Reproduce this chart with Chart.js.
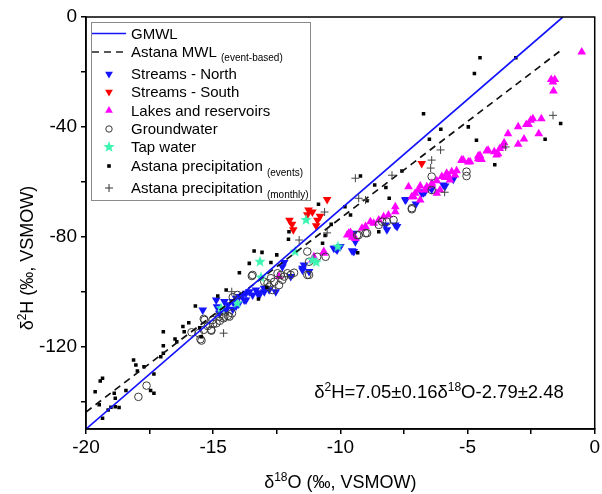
<!DOCTYPE html>
<html>
<head>
<meta charset="utf-8">
<script src="https://cdn.jsdelivr.net/npm/chart.js@4.4.0/dist/chart.umd.min.js"></script>
<style>
html, body { margin: 0; padding: 0; background: #fff; }
#wrap { width: 602px; height: 494px; }
</style>
</head>
<body>
<div id="wrap"><canvas id="myChart" width="602" height="494"></canvas></div>
<script>
// tick labels
const xTickLabels = [-20, -15, -10, -5, 0];
const yTickLabels = [-120, -80, -40, 0];

// meteoric water lines (end points)
const gmwlO = [-20, -1.25];
const gmwlH = [-150, 0];
const mwlO = [-20, -1.35];
const mwlH = [-143.8, -12.3];

// Streams - North
const northO = [-14.88, -14.56, -14.43, -14.23, -14.10, -13.97, -13.84, -13.71, -13.58, -13.45, -13.32, -13.19, -12.99, -13.78, -14.10, -14.49, -14.23, -12.54, -12.21, -12.28, -11.95, -11.49, -11.23, -10.13, -10.26, -9.47, -9.60, -15.41, -14.76, -14.85, -14.00, -13.71, -9.47, -9.41, -10.19, -10.00, -9.54, -8.17, -7.84, -7.77, -8.23, -11.49, -11.43, -7.45, -6.80, -6.67, -6.41, -5.95, -5.56, -5.88, -6.47, -6.73, -7.42, -7.03, -13.20, -13.00, -12.80];
const northH = [-103.0, -103.6, -104.8, -103.6, -102.4, -101.8, -101.2, -100.6, -100.0, -101.2, -99.4, -100.4, -100.0, -103.0, -105.2, -106.7, -106.4, -100.0, -89.4, -90.9, -94.5, -92.1, -92.7, -84.8, -84.2, -85.4, -79.0, -106.7, -107.9, -105.5, -104.5, -103.0, -78.7, -81.8, -84.2, -83.6, -85.1, -77.5, -75.7, -76.3, -75.7, -91.5, -90.3, -66.6, -64.2, -63.6, -62.7, -61.2, -59.1, -61.5, -62.0, -64.0, -66.4, -68.1, -101.5, -98.8, -99.3];

// Streams - South
const southO = [-12.0, -11.9, -11.85, -11.25, -11.1, -11.3, -10.9, -10.8, -10.95, -10.52, -6.8];
const southH = [-74.0, -75.5, -77.5, -70.3, -71.0, -72.0, -74.0, -72.5, -76.0, -66.4, -53.3];

// Lakes and reservoirs
const lakeO = [-11.04, -10.65, -12.41, -9.54, -9.41, -9.15, -9.01, -9.73, -9.54, -9.60, -8.82, -8.69, -8.49, -8.30, -8.11, -7.84, -7.32, -7.19, -7.06, -6.93, -6.60, -6.40, -6.21, -6.01, -5.82, -5.62, -5.49, -5.23, -11.10, -5.43, -5.75, -5.88, -6.21, -5.69, -6.41, -6.08, -6.86, -6.67, -7.12, -6.86, -7.84, -4.90, -5.17, -4.58, -4.51, -3.86, -0.51, -1.71, -1.57, -1.64, -1.62, -2.43, -2.52, -2.10, -2.69, -2.60, -3.01, -3.41, -2.20, -2.78, -3.01, -3.56, -3.60, -3.73, -3.95, -3.80, -4.19, -4.25, -4.51, -4.58, -4.45, -4.97, -5.23, -10.65, -9.67];
const lakeH = [-87.3, -86.0, -94.5, -79.4, -80.6, -76.9, -76.3, -79.4, -80.2, -78.5, -74.5, -75.1, -73.9, -72.7, -72.1, -70.9, -61.8, -65.4, -64.2, -63.0, -61.8, -60.5, -64.2, -58.1, -56.9, -56.3, -57.5, -52.1, -88.5, -56.0, -57.9, -58.4, -59.6, -59.3, -61.2, -63.0, -61.5, -63.0, -65.4, -66.6, -69.1, -52.7, -52.1, -50.6, -51.8, -50.2, -12.7, -22.8, -22.8, -23.7, -26.9, -37.0, -37.6, -37.0, -39.1, -39.1, -40.0, -42.5, -42.5, -44.4, -46.3, -45.8, -47.1, -47.9, -49.1, -49.8, -48.5, -48.8, -50.4, -51.6, -51.9, -52.8, -52.2, -85.4, -78.7];

// Groundwater
const gwO = [-17.62, -17.94, -15.37, -15.85, -15.57, -15.50, -15.46, -15.07, -15.00, -14.87, -14.74, -14.59, -14.42, -14.26, -15.37, -13.45, -12.99, -12.86, -12.73, -12.60, -12.47, -12.34, -12.21, -12.08, -11.95, -11.82, -12.41, -12.67, -12.80, -12.28, -14.04, -14.23, -14.76, -14.56, -14.36, -15.02, -15.21, -15.34, -15.08, -11.30, -11.23, -10.91, -10.58, -9.28, -9.01, -13.48, -9.34, -8.95, -8.36, -8.17, -7.91, -8.49, -7.19, -6.41, -6.41, -5.04, -5.04, -11.30, -11.23, -7.19];
const gwH = [-134.2, -138.3, -109.9, -114.8, -115.1, -117.3, -117.8, -114.2, -111.8, -111.5, -110.6, -109.7, -108.8, -107.9, -113.9, -93.9, -96.4, -96.9, -95.1, -96.4, -93.3, -93.9, -94.5, -93.3, -93.9, -93.1, -97.6, -99.4, -98.2, -95.7, -101.2, -102.0, -109.1, -109.1, -109.1, -110.3, -112.5, -110.3, -113.9, -93.9, -89.1, -87.3, -87.3, -79.4, -78.7, -94.3, -79.4, -78.7, -74.5, -74.5, -73.9, -75.7, -70.0, -58.1, -63.0, -56.3, -57.9, -85.4, -93.9, -69.6];

// Tap water
const tapO = [-14.69, -14.06, -13.16, -13.12, -11.78, -11.35, -11.10, -10.95, -10.10];
const tapH = [-106.0, -104.2, -89.1, -94.8, -85.4, -73.9, -88.5, -89.3, -83.6];

// Astana precipitation (events)
const eventO = [-15.70, -16.96, -16.19, -16.14, -15.96, -15.53, -15.47, -16.96, -16.50, -16.43, -16.96, -17.06, -18.13, -18.04, -17.72, -17.98, -17.33, -19.35, -19.44, -19.64, -18.89, -18.43, -17.46, -17.33, -19.48, -18.85, -18.85, -18.70, -19.02, -19.13, -19.35, -12.02, -12.04, -13.39, -13.08, -12.50, -13.58, -12.73, -13.97, -14.49, -14.82, -13.22, -12.89, -10.60, -10.70, -10.36, -9.32, -9.21, -8.65, -8.21, -7.58, -8.08, -8.95, -9.60, -9.82, -10.86, -8.49, -4.51, -4.73, -3.10, -6.73, -6.05, -4.97, -6.50, -4.65, -1.95, -1.34, -3.93];
const eventH = [-105.2, -114.6, -112.7, -114.6, -111.3, -113.1, -116.4, -119.7, -117.2, -118.2, -122.4, -123.7, -124.9, -126.7, -127.3, -128.9, -130.0, -131.5, -132.5, -136.4, -137.0, -136.0, -136.0, -137.0, -141.2, -138.8, -141.9, -142.2, -142.1, -143.1, -146.1, -78.2, -80.9, -85.2, -85.7, -86.6, -89.7, -89.4, -93.1, -99.4, -101.6, -102.7, -98.4, -79.5, -82.4, -75.5, -85.8, -57.9, -61.2, -62.1, -56.1, -66.0, -66.9, -72.1, -69.1, -68.2, -78.2, -14.8, -20.6, -14.8, -35.2, -40.9, -40.0, -44.5, -44.9, -44.5, -38.8, -53.8];

// Astana precipitation (monthly)
const monthO = [-14.59, -14.27, -11.62, -10.52, -10.62, -9.41, -9.28, -9.01, -7.97, -6.41, -6.45, -6.06, -5.90, -3.50, -1.64];
const monthH = [-115.1, -100.0, -81.2, -78.6, -71.0, -58.7, -66.0, -66.6, -57.6, -52.1, -55.0, -48.4, -63.8, -47.3, -35.8];

const FONT = '"Liberation Sans", Arial, sans-serif';
const tapColor = '#3cf5b0';

function pairs(xs, ys) {
    return xs.map((x, i) => ({ x: x, y: ys[i] }));
}

// filled five pointed star used as point style
function makeStar(r, color) {
    const c = document.createElement('canvas');
    c.width = c.height = Math.ceil(2 * r + 2);
    const g = c.getContext('2d');
    const cx = c.width / 2, cy = c.height / 2;
    g.beginPath();
    for (let i = 0; i < 10; i++) {
        const rr = i % 2 === 0 ? r : r * 0.42;
        const a = -Math.PI / 2 + i * Math.PI / 5;
        g.lineTo(cx + rr * Math.cos(a), cy + rr * Math.sin(a));
    }
    g.closePath();
    g.fillStyle = color;
    g.fill();
    return c;
}
const starImg = makeStar(6, tapColor);

// text with super/subscripts: parts = [[text, 0|1|-1]]
function drawRich(ctx, parts, x, y, size, align, subSize) {
    const small = subSize || size * 0.62;
    let w = 0;
    parts.forEach(p => {
        ctx.font = (p[1] ? small : size) + 'px ' + FONT;
        w += ctx.measureText(p[0]).width;
    });
    let cx = align === 'center' ? x - w / 2 : x;
    ctx.textAlign = 'left';
    ctx.textBaseline = 'alphabetic';
    parts.forEach(p => {
        ctx.font = (p[1] ? small : size) + 'px ' + FONT;
        let dy = 0;
        if (p[1] === 1) dy = -size * 0.38;
        if (p[1] === -1) dy = size * 0.28;
        ctx.fillText(p[0], cx, y + dy);
        cx += ctx.measureText(p[0]).width;
    });
}

function drawSymbol(ctx, kind, x, y) {
    ctx.save();
    if (kind === 'down' || kind === 'up') {
        const r = 4.5;
        const s = kind === 'down' ? 1 : -1;
        ctx.beginPath();
        ctx.moveTo(x, y + s * r);
        ctx.lineTo(x - r * 0.866, y - s * r * 0.5);
        ctx.lineTo(x + r * 0.866, y - s * r * 0.5);
        ctx.closePath();
        ctx.fill();
    } else if (kind === 'circle') {
        ctx.beginPath();
        ctx.arc(x, y, 3.2, 0, Math.PI * 2);
        ctx.stroke();
    } else if (kind === 'star') {
        ctx.drawImage(starImg, x - starImg.width / 2, y - starImg.height / 2);
    } else if (kind === 'square') {
        ctx.fillRect(x - 1.8, y - 1.8, 3.6, 3.6);
    } else if (kind === 'plus') {
        ctx.beginPath();
        ctx.moveTo(x - 4, y); ctx.lineTo(x + 4, y);
        ctx.moveTo(x, y - 4); ctx.lineTo(x, y + 4);
        ctx.stroke();
    }
    ctx.restore();
}

// legend box, frame, axis titles and the fit equation
const decorations = {
    id: 'decorations',
    afterDraw(chart) {
        const ctx = chart.ctx;
        const a = chart.chartArea;
        ctx.save();

        // frame round the plot
        ctx.strokeStyle = '#000';
        ctx.lineWidth = 1.5;
        ctx.strokeRect(a.left, a.top, a.right - a.left, a.bottom - a.top);

        // legend
        ctx.fillStyle = '#fff';
        ctx.fillRect(91, 22, 219, 178);
        ctx.strokeStyle = '#8a8a8a';
        ctx.lineWidth = 1;
        ctx.strokeRect(91.5, 22.5, 219, 178);

        const tx = 131, sx = 109, fs = 15;
        ctx.fillStyle = '#000';

        ctx.strokeStyle = '#1414ff';
        ctx.lineWidth = 1.5;
        ctx.beginPath(); ctx.moveTo(92, 33.5); ctx.lineTo(126, 33.5); ctx.stroke();
        ctx.fillStyle = '#000';
        drawRich(ctx, [['GMWL', 0]], tx, 39, fs);

        ctx.strokeStyle = '#222';
        ctx.setLineDash([7, 5]);
        ctx.beginPath(); ctx.moveTo(92, 52); ctx.lineTo(128, 52); ctx.stroke();
        ctx.setLineDash([]);
        drawRich(ctx, [['Astana MWL ', 0], ['(event-based)', -1]], tx, 57, fs, 'left', 10);

        const rows = [
            ['down', '#1414ff', '#1414ff', 74, [['Streams - North', 0]]],
            ['down', '#ff0000', '#ff0000', 92, [['Streams - South', 0]]],
            ['up', '#ff00ff', '#ff00ff', 110.5, [['Lakes and reservoirs', 0]]],
            ['circle', '#fff', '#3a3a3a', 129, [['Groundwater', 0]]],
            ['star', tapColor, tapColor, 147, [['Tap water', 0]]],
            ['square', '#000', '#000', 166, [['Astana precipitation ', 0], ['(events)', -1]]],
            ['plus', '#333', '#333', 188, [['Astana precipitation ', 0], ['(monthly)', -1]]]
        ];
        rows.forEach(r => {
            ctx.fillStyle = r[1];
            ctx.strokeStyle = r[2];
            ctx.lineWidth = 1;
            drawSymbol(ctx, r[0], sx, r[3]);
            ctx.fillStyle = '#000';
            drawRich(ctx, r[4], tx, r[3] + 5.4, fs, 'left', 10);
        });

        // axis titles
        ctx.fillStyle = '#000';
        drawRich(ctx, [['\u03b4', 0], ['18', 1], ['O (\u2030, VSMOW)', 0]], (a.left + a.right) / 2, 488, 18, 'center', 12);
        ctx.save();
        ctx.translate(33, 258);
        ctx.rotate(-Math.PI / 2);
        drawRich(ctx, [['\u03b4', 0], ['2', 1], ['H (\u2030, VSMOW)', 0]], 0, 0, 18, 'center', 12);
        ctx.restore();

        // equation of the local line
        drawRich(ctx, [['\u03b4', 0], ['2', 1], ['H=7.05\u00b10.16\u03b4', 0], ['18', 1], ['O-2.79\u00b12.48', 0]], 439, 398, 18.5, 'center', 12);

        ctx.restore();
    }
};

function start() {
    const ctx = document.getElementById('myChart').getContext('2d');

    const tickFont = { family: FONT, size: 19 };
    const grid = {
        drawOnChartArea: false,
        drawTicks: true,
        tickLength: 5,
        color: '#000',
        lineWidth: 1.5
    };

    new Chart(ctx, {
        type: 'scatter',
        data: {
            datasets: [
                {
                    type: 'line', data: pairs(gmwlO, gmwlH), borderColor: '#1414ff', borderWidth: 1.7,
                    pointRadius: 0, fill: false, order: 2
                },
                {
                    type: 'line', data: pairs(mwlO, mwlH), borderColor: '#111', borderWidth: 1.7,
                    borderDash: [7, 5], pointRadius: 0, fill: false, order: 3
                },
                {
                    data: pairs(northO, northH), pointStyle: 'triangle', rotation: 180, pointRadius: 5,
                    backgroundColor: '#1414ff', borderColor: '#1414ff', borderWidth: 0, order: 9
                },
                {
                    data: pairs(southO, southH), pointStyle: 'triangle', rotation: 180, pointRadius: 5,
                    backgroundColor: '#ff0000', borderColor: '#ff0000', borderWidth: 0, order: 8
                },
                {
                    data: pairs(lakeO, lakeH), pointStyle: 'triangle', pointRadius: 5,
                    backgroundColor: '#ff00ff', borderColor: '#ff00ff', borderWidth: 0, order: 7
                },
                {
                    data: pairs(gwO, gwH), pointStyle: 'circle', pointRadius: 3.8,
                    backgroundColor: 'rgba(255,255,255,0)', borderColor: '#3a3a3a', borderWidth: 1, order: 6
                },
                {
                    data: pairs(tapO, tapH), pointStyle: starImg, order: 5
                },
                {
                    data: pairs(eventO, eventH), pointStyle: 'rect', pointRadius: 2.5,
                    backgroundColor: '#000', borderColor: '#000', borderWidth: 0, order: 4
                },
                {
                    data: pairs(monthO, monthH), pointStyle: 'cross', pointRadius: 4,
                    borderColor: '#444', borderWidth: 1, order: 1
                }
            ]
        },
        options: {
            responsive: false,
            animation: false,
            events: [],
            layout: { padding: { top: 17, right: 5, left: 0, bottom: 0 } },
            plugins: {
                legend: { display: false },
                tooltip: { enabled: false }
            },
            scales: {
                x: {
                    type: 'linear',
                    min: -20,
                    max: 0,
                    afterFit: s => { s.height = 65; },
                    ticks: {
                        stepSize: 2.5,
                        autoSkip: false,
                        maxRotation: 0,
                        padding: 2,
                        color: '#000',
                        font: tickFont,
                        callback: v => xTickLabels.includes(v) ? String(v) : ''
                    },
                    grid: grid,
                    border: { display: true, color: '#000', width: 1.5 }
                },
                y: {
                    type: 'linear',
                    min: -150,
                    max: 0,
                    afterFit: s => { s.width = 86; },
                    ticks: {
                        stepSize: 20,
                        includeBounds: false,
                        autoSkip: false,
                        padding: 4,
                        color: '#000',
                        font: tickFont,
                        callback: v => yTickLabels.includes(v) ? String(v) : ''
                    },
                    grid: grid,
                    border: { display: true, color: '#000', width: 1.5 }
                }
            }
        },
        plugins: [decorations]
    });
}

window.addEventListener('load', start, false);
</script>
</body>
</html>
